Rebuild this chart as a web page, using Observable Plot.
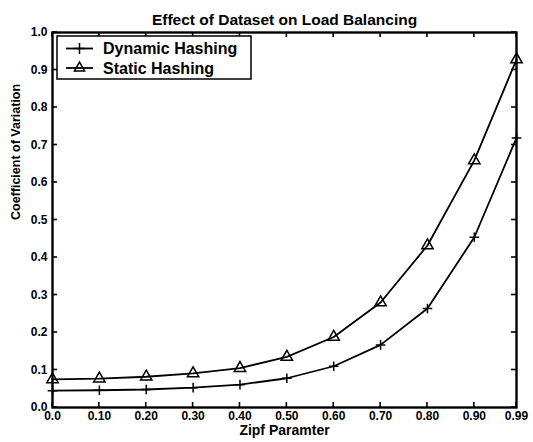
<!DOCTYPE html>
<html><head><meta charset="utf-8">
<script src="https://cdn.jsdelivr.net/npm/d3@7"></script>
<script src="https://cdn.jsdelivr.net/npm/@observablehq/plot@0.6"></script>
<style>
body{margin:0;background:#fff;}
#chart{position:relative;width:533px;height:442px;}
svg{font-family:"Liberation Sans",Arial,sans-serif;font-weight:bold;}
</style>
</head><body><div id="chart"></div>
<script>
const zipf = [0.0, 0.1, 0.2, 0.3, 0.4, 0.5, 0.6, 0.7, 0.8, 0.9, 0.99];
const dynamicHashing = [0.045, 0.046, 0.048, 0.053, 0.061, 0.078, 0.110, 0.167, 0.264, 0.454, 0.719];
const staticHashing = [0.075, 0.077, 0.082, 0.091, 0.105, 0.135, 0.188, 0.280, 0.432, 0.659, 0.928];
const xTicks = [0, 0.1, 0.2, 0.3, 0.4, 0.5, 0.6, 0.7, 0.8, 0.9, 0.99];
const xTickLabels = ["0.0","0.10","0.20","0.30","0.40","0.50","0.60","0.70","0.80","0.90","0.99"];
const yTicks = [0,0.1,0.2,0.3,0.4,0.5,0.6,0.7,0.8,0.9,1.0];
const yTickLabels = ["0.0","0.1","0.2","0.3","0.4","0.5","0.6","0.7","0.8","0.9","1.0"];
const seriesNames = ["Dynamic Hashing", "Static Hashing"];
const seriesSymbols = ["plus", "triangle"];
const title = "Effect of Dataset on Load Balancing";
const xLabel = "Zipf Paramter";
const yLabel = "Coefficient of Variation";

const W = 533, H = 442, ML = 52, MR = 17, MT = 32, MB = 35;
const T = 5; // inward tick length

const dyn = zipf.map((x,i)=>({x, y: dynamicHashing[i], s: seriesNames[0]}));
const sta = zipf.map((x,i)=>({x, y: staticHashing[i], s: seriesNames[1]}));
const fmtX = d => xTickLabels[xTicks.indexOf(d)];
const fmtY = d => yTickLabels[yTicks.findIndex(t=>Math.abs(t-d)<1e-9)];

const chart = Plot.plot({
  width: W, height: H,
  marginLeft: ML, marginRight: MR, marginTop: MT, marginBottom: MB,
  style: {fontFamily: '"Liberation Sans", Arial, sans-serif', fontWeight: "bold", fontSize: "12px", color: "#000", background: "#fff"},
  x: {domain: [0, 0.99]},
  y: {domain: [0, 1]},
  marks: [
    Plot.axisX(xTicks, {anchor: "bottom", tickSize: 0, tickPadding: 4, tickFormat: fmtX, label: null, fontSize: 12, fontWeight: "bold"}),
    Plot.axisY(yTicks, {anchor: "left", tickSize: 0, tickPadding: 5, tickFormat: fmtY, label: null, fontSize: 12, fontWeight: "bold"}),
    Plot.frame({stroke: "#000", strokeWidth: 2.4}),
    Plot.line(dyn, {x: "x", y: "y", stroke: "#000", strokeWidth: 1.8}),
    Plot.line(sta, {x: "x", y: "y", stroke: "#000", strokeWidth: 1.8}),
    Plot.dot(dyn, {x: "x", y: "y", symbol: () => seriesSymbols[0], r: 3.2, stroke: "#000", strokeWidth: 1.5}),
    Plot.dot(sta, {x: "x", y: "y", symbol: () => seriesSymbols[1], r: 4.2, stroke: "#000", fill: "none", strokeWidth: 1.5}),
    Plot.text([title], {frameAnchor: "top", dy: -19, fontSize: 15.5, fontWeight: "bold", text: d => d}),
    Plot.text([xLabel], {frameAnchor: "bottom", dy: 27, fontSize: 14, fontWeight: "bold", text: d => d}),
    Plot.text([yLabel], {frameAnchor: "left", dx: -37, rotate: -90, fontSize: 12.5, fontWeight: "bold", text: d => d})
  ]
});
document.getElementById("chart").appendChild(chart);

const svg = d3.select(chart);
// inward ticks on all four sides, placed through Plot's own scales
const sx = chart.scale("x"), sy = chart.scale("y");
const x0 = sx.apply(0), x1 = sx.apply(0.99), y0 = sy.apply(0), y1 = sy.apply(1);
const tg = svg.append("g").attr("stroke", "#000").attr("stroke-width", 1.6);
xTicks.forEach(v => {
  const px = sx.apply(v);
  tg.append("line").attr("x1", px).attr("x2", px).attr("y1", y0).attr("y2", y0 - T);
  tg.append("line").attr("x1", px).attr("x2", px).attr("y1", y1).attr("y2", y1 + T);
});
yTicks.forEach(v => {
  const py = sy.apply(v);
  tg.append("line").attr("y1", py).attr("y2", py).attr("x1", x0).attr("x2", x0 + T);
  tg.append("line").attr("y1", py).attr("y2", py).attr("x1", x1).attr("x2", x1 - T);
});

// legend box inside the plot (upper-left)
const g = svg.append("g").attr("transform", "translate(57,36)");
g.append("rect").attr("width", 194).attr("height", 43).attr("fill", "#fff").attr("stroke", "#000").attr("stroke-width", 1.5);
seriesNames.forEach((name, i) => {
  const y = 12.5 + i * 19.5;
  g.append("line").attr("x1", 9).attr("x2", 36).attr("y1", y).attr("y2", y).attr("stroke", "#000").attr("stroke-width", 1.8);
  const sym = d3.symbol(i === 0 ? d3.symbolPlus : d3.symbolTriangle, i === 0 ? 40 : 45);
  g.append("path").attr("d", sym()).attr("transform", `translate(22.5,${y})`)
    .attr("fill", "none").attr("stroke", "#000").attr("stroke-width", 1.5);
  g.append("text").attr("x", 46).attr("y", y).attr("dy", "0.35em").attr("text-anchor", "start")
    .attr("font-size", 16).attr("font-weight", "bold").attr("fill", "#000").text(name);
});
</script>
</body></html>
